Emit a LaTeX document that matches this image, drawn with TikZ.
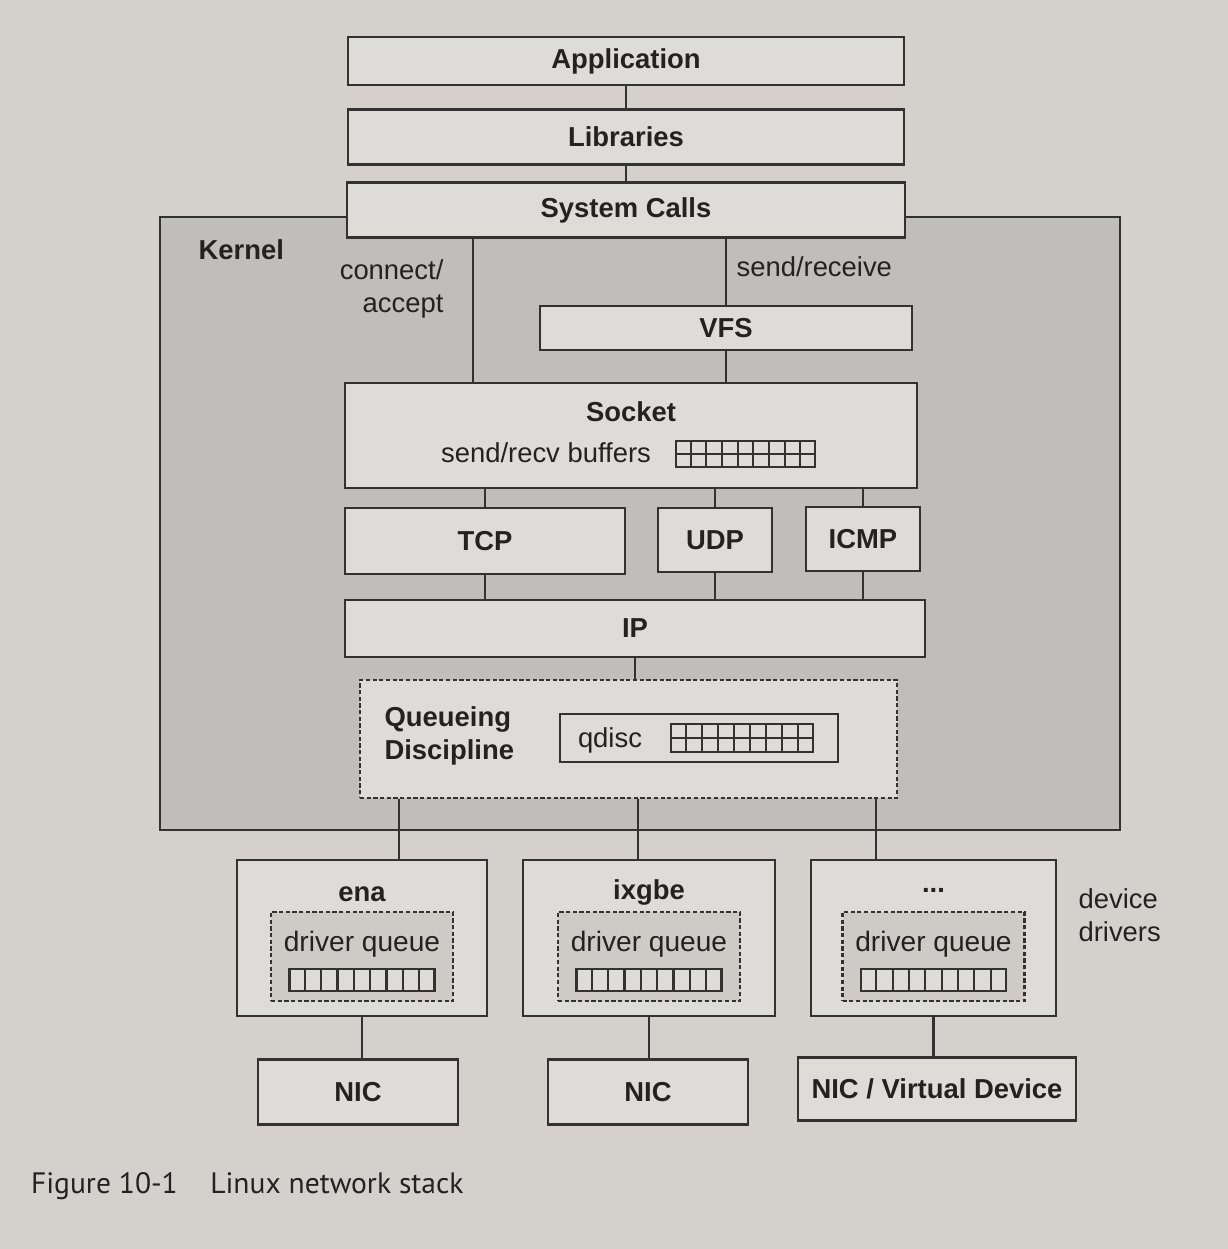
\documentclass[tikz,border=0pt]{standalone}
\usepackage{fontspec}
\setmainfont{Liberation Sans}
\newfontfamily\capfont{PT Sans}
\usepackage{xcolor}
\usepackage{tikz}
\usetikzlibrary{positioning, calc}

\definecolor{pagebg}{RGB}{212,209,205}
\definecolor{kernelbg}{RGB}{192,190,187}
\definecolor{boxbg}{RGB}{222,220,216}
\definecolor{dqbg}{RGB}{206,203,199}
\definecolor{inkc}{RGB}{52,50,48}
\definecolor{textc}{RGB}{36,34,32}

\newcommand{\diafont}{\fontsize{7.8}{9.4}\selectfont}
% cell lines inside a buffer node: #1 node, #2 rows
\newcommand{\bufcells}[2]{%
  \foreach \i in {1,...,8}
    \draw ($(#1.north west)!\i/9!(#1.north east)$) -- ($(#1.south west)!\i/9!(#1.south east)$);
  \ifnum#2>1 \draw (#1.west) -- (#1.east);\fi}

\begin{document}
\begin{tikzpicture}[
    font=\diafont, color=inkc, text=textc, line width=0.6pt,
    layer/.style={draw, fill=boxbg, inner sep=2pt, font=\diafont\bfseries},
    kernel/.style={draw, fill=kernelbg, minimum width=9.6cm, minimum height=6.13cm},
    qdbox/.style={draw, fill=boxbg, dash pattern=on 1.2pt off 0.7pt,
                  minimum width=5.37cm, minimum height=1.18cm},
    drv/.style={draw, fill=boxbg, minimum height=1.56cm},
    dq/.style={draw, fill=dqbg, dash pattern=on 1.2pt off 0.7pt,
               minimum width=1.82cm, minimum height=0.89cm},
    buf/.style={draw, fill=boxbg, inner sep=0pt},
    headtxt/.style={font=\diafont\bfseries, inner sep=1pt},
    note/.style={font=\diafont, inner sep=1pt},
  ]

  \useasboundingbox (0,0) rectangle (12.28,-12.49);
  \fill[pagebg] (0,0) rectangle (12.28,-12.49);

  \node[kernel] (kern) at (6.40,-5.235) {};
  \node[headtxt, anchor=west] (kerntxt) at (1.94,-2.50) {Kernel};

  \node[layer, minimum width=5.56cm, minimum height=0.48cm] (app) at (6.26,-0.61) {Application};
  \node[layer, minimum width=5.56cm, minimum height=0.55cm] (lib) at (6.26,-1.37) {Libraries};
  \node[layer, minimum width=5.58cm, minimum height=0.55cm] (sys) at (6.26,-2.10) {System Calls};

  \node[note, align=right, anchor=east] (conn) at (4.48,-2.89) {connect/\\accept};
  \node[note, anchor=west] (sendrcv) at (7.32,-2.67) {send/receive};

  \node[layer, minimum width=3.72cm, minimum height=0.44cm] (vfs) at (7.26,-3.28) {VFS};

  \node[layer, minimum width=5.72cm, minimum height=1.05cm] (sock) at (6.31,-4.355) {};
  \node[headtxt] (socktxt) at (6.31,-4.12) {Socket};
  \node[note] (buftxt) at (5.46,-4.53) {send/recv buffers};
  \node[buf, minimum width=1.39cm, minimum height=0.26cm] (sbuf) at (7.455,-4.54) {};
  \bufcells{sbuf}{2}

  \node[layer, minimum width=2.80cm, minimum height=0.66cm] (tcp) at (4.85,-5.41) {TCP};
  \node[layer, minimum width=1.14cm, minimum height=0.64cm] (udp) at (7.15,-5.40) {UDP};
  \node[layer, minimum width=1.14cm, minimum height=0.64cm] (icmp) at (8.63,-5.39) {ICMP};

  \node[layer, minimum width=5.80cm, minimum height=0.57cm] (ip) at (6.35,-6.285) {IP};

  \node[qdbox] (qd) at (6.285,-7.39) {};
  \node[headtxt, align=left, anchor=west] (qdtxt) at (3.80,-7.36) {Queueing\\Discipline};
  \node[draw, fill=boxbg, minimum width=2.78cm, minimum height=0.48cm] (qdisc) at (6.99,-7.38) {};
  \node[note] (qdisctxt) at (6.10,-7.40) {qdisc};
  \node[buf, minimum width=1.42cm, minimum height=0.28cm] (qbuf) at (7.42,-7.38) {};
  \bufcells{qbuf}{2}

  % device drivers
  \node[drv, minimum width=2.50cm] (ena) at (3.62,-9.38) {};
  \node[drv, minimum width=2.52cm] (ixg) at (6.49,-9.38) {};
  \node[drv, minimum width=2.45cm] (oth) at (9.335,-9.38) {};
  \node[headtxt] (enatxt) at (3.62,-8.94) {ena};
  \node[headtxt] (ixgtxt) at (6.49,-8.92) {ixgbe};
  \node[headtxt] (othtxt) at (9.335,-8.90) {...};
  \foreach \d in {ena, ixg, oth} {
    \node[dq] (\d q) at ([yshift=-1.85mm]\d.center) {};
    \node[note, font=\fontsize{8}{9.6}\selectfont] (\d qtxt) at ([yshift=-0.6mm]\d.center) {driver queue};
    \node[buf, minimum width=1.45cm, minimum height=0.22cm] (\d buf) at ([yshift=-4.2mm]\d.center) {};
    \bufcells{\d buf}{1}
  }
  \node[note, align=left, anchor=west] (devtxt) at (10.74,-9.15) {device\\drivers};

  \node[layer, minimum width=2.00cm, minimum height=0.65cm] (nic1) at (3.58,-10.92) {NIC};
  \node[layer, minimum width=2.00cm, minimum height=0.65cm] (nic2) at (6.48,-10.92) {NIC};
  \node[layer, minimum width=2.78cm, minimum height=0.63cm] (nic3) at (9.37,-10.89) {NIC / Virtual Device};

  \node[anchor=west, inner sep=0pt, font=\capfont\fontsize{8.4}{10}\selectfont] (cap) at (0.30,-11.86)
    {Figure 10-1\hspace{1.1em}Linux network stack};

  \coordinate (xconn) at (4.73,0);
  \coordinate (xq1) at (3.99,0);
  \coordinate (xq2) at (6.38,0);
  \coordinate (xq3) at (8.76,0);

  \draw (app) -- (lib);
  \draw (lib) -- (sys);
  \draw (sys.south -| xconn) -- (sock.north -| xconn);
  \draw (sys.south -| vfs) -- (vfs.north);
  \draw (vfs.south) -- (vfs.south |- sock.north);
  \draw (sock.south -| tcp) -- (tcp.north);
  \draw (sock.south -| udp) -- (udp.north);
  \draw (sock.south -| icmp) -- (icmp.north);
  \draw (tcp.south) -- (tcp.south |- ip.north);
  \draw (udp.south) -- (udp.south |- ip.north);
  \draw (icmp.south) -- (icmp.south |- ip.north);
  \draw (ip.south) -- (ip.south |- qd.north);
  \draw (qd.south -| xq1) -- (ena.north -| xq1);
  \draw (qd.south -| xq2) -- (ixg.north -| xq2);
  \draw (qd.south -| xq3) -- (oth.north -| xq3);
  \draw (ena.south) -- (ena.south |- nic1.north);
  \draw (ixg.south) -- (ixg.south |- nic2.north);
  \draw (oth.south) -- (oth.south |- nic3.north);
\end{tikzpicture}
\end{document}
